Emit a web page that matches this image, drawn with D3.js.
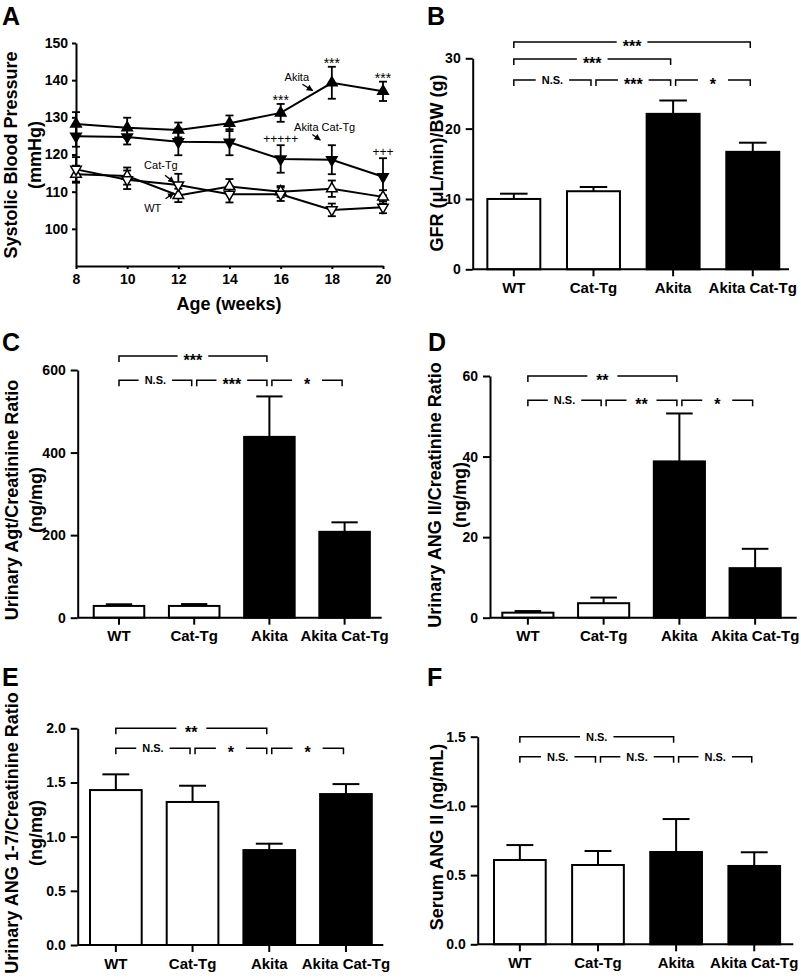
<!DOCTYPE html>
<html>
<head>
<meta charset="utf-8">
<script src="https://cdn.jsdelivr.net/npm/d3@7"></script>
<style>
body { margin: 0; background: #fff; }
svg { display: block; font-family: "Liberation Sans", Arial, sans-serif; }
.axis .domain, .axis line { stroke: #000; stroke-width: 2; }
.axis text { font-weight: bold; fill: #000; }
</style>
</head>
<body>
<svg id="fig" width="801" height="979"></svg>
<script>
// ---- data ----
const groups = ["WT", "Cat-Tg", "Akita", "Akita Cat-Tg"];

// panel A: systolic BP by age
const weeks = [8, 10, 12, 14, 16, 18, 20];
const bpWT = [114.7, 114.2, 109.0, 111.4, 110.0, 110.8, 108.6];
const bpWTErr = [2.3, 2.3, 1.8, 2.0, 1.5, 2.2, 1.8];
const bpCatTg = [116.0, 113.2, 111.8, 109.3, 109.3, 105.1, 105.8];
const bpCatTgErr = [3.3, 2.5, 3.0, 2.2, 1.8, 1.7, 1.6];
const bpAkita = [128.2, 127.2, 126.6, 128.4, 131.2, 139.3, 137.0];
const bpAkitaErr = [3.2, 2.7, 2.0, 2.1, 2.4, 4.3, 2.6];
const bpAkitaCatTg = [124.9, 124.7, 123.4, 123.3, 118.8, 118.6, 114.0];
const bpAkitaCatTgErr = [2.8, 2.0, 3.6, 3.5, 3.7, 3.9, 5.0];
const akitaSig = ["", "", "", "", "***", "***", "***"];
const akitaCatTgSig = ["", "", "", "", "+++++", "", "+++"];

// panels B-F: group means and SEM
const gfrMean = [10.0, 11.1, 22.1, 16.7];
const gfrErr = [0.75, 0.6, 1.9, 1.3];
const agtMean = [28.5, 28.5, 438, 208];
const agtErr = [4, 4.5, 98, 23];
const angIIMean = [1.25, 3.6, 38.8, 12.3];
const angIIErr = [0.4, 1.4, 11.9, 4.8];
const ang17Mean = [1.43, 1.32, 0.876, 1.393];
const ang17Err = [0.145, 0.15, 0.059, 0.092];
const serumMean = [0.609, 0.573, 0.667, 0.566];
const serumErr = [0.108, 0.101, 0.238, 0.099];

// comparisons [from, to, label]
const gfrSig = [[0, 3, "***"], [0, 2, "***"], [0, 1, "N.S."], [1, 2, "***"], [2, 3, "*"]];
const agtSig = [[0, 2, "***"], [0, 1, "N.S."], [1, 2, "***"], [2, 3, "*"]];
const angIISig = [[0, 2, "**"], [0, 1, "N.S."], [1, 2, "**"], [2, 3, "*"]];
const ang17Sig = [[0, 2, "**"], [0, 1, "N.S."], [1, 2, "*"], [2, 3, "*"]];
const serumSig = [[0, 2, "N.S."], [0, 1, "N.S."], [1, 2, "N.S."], [2, 3, "N.S."]];

const svg = d3.select("#fig");

svg.append("defs").append("marker")
    .attr("id", "arr")
    .attr("viewBox", "0 0 10 10")
    .attr("refX", 9).attr("refY", 5)
    .attr("markerWidth", 5).attr("markerHeight", 5)
    .attr("orient", "auto")
    .append("path").attr("d", "M0,0L10,5L0,10z").attr("fill", "#000");

function panelLetter(t, x, y) {
    svg.append("text").attr("x", x).attr("y", y)
        .attr("font-size", 25).attr("font-weight", "bold").text(t);
}

function yTitle(lines, xs, cy) {
    lines.forEach((t, i) => {
        svg.append("text")
            .attr("transform", "translate(" + xs[i] + "," + cy + ") rotate(-90)")
            .attr("text-anchor", "middle")
            .attr("dy", "0.35em")
            .attr("font-size", 18).attr("font-weight", "bold")
            .text(t);
    });
}

// ---- panel A ----
function drawA() {
    const x = d3.scaleLinear().domain([8, 20]).range([76, 383]);
    const y = d3.scaleLinear().domain([90, 150]).range([266, 43]);
    const g = svg.append("g");

    g.append("g").attr("class", "axis")
        .attr("transform", "translate(76,0)")
        .call(d3.axisLeft(y).tickValues([100, 110, 120, 130, 140, 150])
            .tickSize(4).tickPadding(4).tickSizeOuter(0))
        .selectAll("text").attr("font-size", 14);

    g.append("g").attr("class", "axis")
        .attr("transform", "translate(0,266)")
        .call(d3.axisBottom(x).tickValues(weeks).tickSize(3).tickPadding(5).tickSizeOuter(0))
        .selectAll("text").attr("font-size", 14);

    g.selectAll(".axis text").attr("font-family", null);

    const series = [
        { v: bpWT, e: bpWTErr, sym: "up", fill: "#fff" },
        { v: bpCatTg, e: bpCatTgErr, sym: "down", fill: "#fff" },
        { v: bpAkitaCatTg, e: bpAkitaCatTgErr, sym: "down", fill: "#000" },
        { v: bpAkita, e: bpAkitaErr, sym: "up", fill: "#000" }
    ];

    const line = d3.line().x((d, i) => x(weeks[i])).y(d => y(d));
    series.forEach(s => {
        g.append("path").attr("d", line(s.v))
            .attr("fill", "none").attr("stroke", "#000").attr("stroke-width", 2);
    });

    const tri = d3.symbol().type(d3.symbolTriangle).size(48);
    series.forEach(s => {
        s.v.forEach((v, i) => {
            const cx = x(weeks[i]);
            const eg = g.append("g").attr("stroke", "#000").attr("stroke-width", 1.8);
            eg.append("line").attr("x1", cx).attr("x2", cx)
                .attr("y1", y(v - s.e[i])).attr("y2", y(v + s.e[i]));
            [v - s.e[i], v + s.e[i]].forEach(c => {
                eg.append("line").attr("x1", cx - 4).attr("x2", cx + 4)
                    .attr("y1", y(c)).attr("y2", y(c));
            });
        });
    });
    series.forEach(s => {
        g.selectAll(null).data(s.v).join("path")
            .attr("d", tri)
            .attr("transform", (d, i) => "translate(" + x(weeks[i]) + "," + y(d) + ")"
                + (s.sym === "down" ? " rotate(180)" : ""))
            .attr("fill", s.fill).attr("stroke", "#000").attr("stroke-width", 1.5);
    });

    // significance marks
    akitaSig.forEach((t, i) => {
        if (!t) return;
        g.append("text").attr("x", x(weeks[i])).attr("y", y(bpAkita[i] + bpAkitaErr[i]) + 1)
            .attr("text-anchor", "middle").attr("font-size", 14).text(t);
    });
    akitaCatTgSig.forEach((t, i) => {
        if (!t) return;
        g.append("text").attr("x", x(weeks[i])).attr("y", y(bpAkitaCatTg[i] + bpAkitaCatTgErr[i]) - 2)
            .attr("text-anchor", "middle").attr("font-size", 12).text(t);
    });

    // series labels with arrows
    const labels = [
        { t: "Akita", wk: 16.63, v: 139.7, a: [16.85, 138.9, 17.25, 137.2] },
        { t: "Akita Cat-Tg", wk: 17.72, v: 126.3, a: [17.24, 125.4, 17.55, 123.9] },
        { t: "Cat-Tg", wk: 11.32, v: 116.2, a: [11.48, 114.4, 11.83, 112.5] },
        { t: "WT", wk: 11.0, v: 104.4, a: [11.5, 108.1, 11.82, 109.6] }
    ];
    labels.forEach(l => {
        g.append("text").attr("x", x(l.wk)).attr("y", y(l.v))
            .attr("text-anchor", "middle").attr("font-size", 11).text(l.t);
        g.append("line")
            .attr("x1", x(l.a[0])).attr("y1", y(l.a[1]))
            .attr("x2", x(l.a[2])).attr("y2", y(l.a[3]))
            .attr("stroke", "#000").attr("stroke-width", 1.3)
            .attr("marker-end", "url(#arr)");
    });

    svg.append("text").attr("x", 229).attr("y", 310).attr("text-anchor", "middle")
        .attr("font-size", 18).attr("font-weight", "bold").text("Age (weeks)");
    yTitle(["Systolic Blood Pressure", "(mmHg)"], [11, 35], 155);
    panelLetter("A", 2, 25);
}

// ---- bar panels ----
function barPanel(o) {
    const y = d3.scaleLinear().domain([0, o.yMax]).range([o.y0, o.y1]);
    const x = d3.scaleBand().domain(groups).range([o.xa, o.xb])
        .paddingInner(o.pad).paddingOuter(o.pad / 2);
    const c = i => x(groups[i]) + x.bandwidth() / 2;
    const g = svg.append("g");

    // error bars (upper only)
    const capW = x.bandwidth() * 0.26;
    o.mean.forEach((m, i) => {
        const top = y(m + o.err[i]);
        g.append("line").attr("x1", c(i)).attr("x2", c(i)).attr("y1", y(m)).attr("y2", top)
            .attr("stroke", "#000").attr("stroke-width", 2);
        g.append("line").attr("x1", c(i) - capW).attr("x2", c(i) + capW).attr("y1", top).attr("y2", top)
            .attr("stroke", "#000").attr("stroke-width", 2);
    });

    g.selectAll("rect").data(o.mean).join("rect")
        .attr("x", (d, i) => x(groups[i]))
        .attr("y", d => y(d))
        .attr("width", x.bandwidth())
        .attr("height", d => o.y0 - y(d))
        .attr("fill", (d, i) => i < 2 ? "#fff" : "#000")
        .attr("stroke", "#000").attr("stroke-width", 2);

    g.append("g").attr("class", "axis")
        .attr("transform", "translate(" + o.axisX + ",0)")
        .call(d3.axisLeft(y).tickValues(o.ticks).tickFormat(d3.format(o.fmt))
            .tickSize(7).tickPadding(5).tickSizeOuter(0))
        .selectAll("text").attr("font-size", 14).attr("font-family", null);

    const xa = g.append("g").attr("class", "axis")
        .attr("transform", "translate(0," + o.y0 + ")")
        .call(d3.axisBottom(x).tickSize(7).tickPadding(6).tickSizeOuter(0));
    xa.select(".domain").attr("d", "M" + o.axisX + ",0H" + o.xEnd);
    xa.selectAll("text").attr("font-size", 15).attr("font-family", null);

    // comparison brackets
    const spans = Array.from(new Set(o.sig.map(s => s[1] - s[0]))).sort((a, b) => a - b);
    o.sig.forEach(s => {
        const row = spans.indexOf(s[1] - s[0]);
        const ly = y(o.rows[row]);
        const x1 = c(s[0]) + (s[0] > 0 ? 2.5 : 0);
        const x2 = c(s[1]) - 2.5;
        const xm = (x1 + x2) / 2;
        const star = s[2].indexOf("*") >= 0;
        const t = g.append("text").attr("x", xm).attr("y", ly + (star ? 10 : 4))
            .attr("text-anchor", "middle").attr("font-weight", "bold")
            .attr("font-size", star ? 16 : 11)
            .text(s[2]);
        const w = t.node().getComputedTextLength();
        const gap = Math.max(w + 12, 30) / 2;
        g.append("path")
            .attr("d", "M" + x1 + "," + (ly + 6) + "V" + ly + "H" + (xm - gap)
                + "M" + (xm + gap) + "," + ly + "H" + x2 + "V" + (ly + 6))
            .attr("fill", "none").attr("stroke", "#000").attr("stroke-width", 1.5);
    });
}

drawA();

barPanel({ mean: gfrMean, err: gfrErr, sig: gfrSig, yMax: 30, ticks: [0, 10, 20, 30], fmt: "d",
    y0: 269.3, y1: 58.3, axisX: 472.7, xEnd: 789, xa: 474, xb: 792.6, pad: 0.335,
    rows: [26.9, 29.9, 32.3] });
yTitle(["GFR (\u03bcL/min)/BW (g)"], [437], 163);
panelLetter("B", 427, 25);

barPanel({ mean: agtMean, err: agtErr, sig: agtSig, yMax: 600, ticks: [0, 200, 400, 600], fmt: "d",
    y0: 617.7, y1: 370, axisX: 77.7, xEnd: 381.7, xa: 81.4, xb: 382.2, pad: 0.328,
    rows: [575, 634] });
yTitle(["Urinary Agt/Creatinine Ratio", "(ng/mg)"], [12, 36], 500);
panelLetter("C", 2, 351);

barPanel({ mean: angIIMean, err: angIIErr, sig: angIISig, yMax: 60, ticks: [0, 20, 40, 60], fmt: "d",
    y0: 617.7, y1: 376, axisX: 490, xEnd: 796.7, xa: 490, xb: 793, pad: 0.325,
    rows: [54, 60] });
yTitle(["Urinary ANG II/Creatinine Ratio", "(ng/mg)"], [435, 460], 495);
panelLetter("D", 428, 351);

barPanel({ mean: ang17Mean, err: ang17Err, sig: ang17Sig, yMax: 2, ticks: [0, 0.5, 1, 1.5, 2], fmt: ".1f",
    y0: 945, y1: 728.3, axisX: 77.7, xEnd: 383.3, xa: 77.5, xb: 384.3, pad: 0.326,
    rows: [1.815, 2.0] });
yTitle(["Urinary ANG 1-7/Creatinine Ratio", "(ng/mg)"], [12, 36], 833);
panelLetter("E", 2, 686);

barPanel({ mean: serumMean, err: serumErr, sig: serumSig, yMax: 1.5, ticks: [0, 0.5, 1, 1.5], fmt: ".1f",
    y0: 944.3, y1: 736.7, axisX: 477.7, xEnd: 793.3, xa: 480.8, xb: 793.3, pad: 0.338,
    rows: [1.356, 1.5] });
yTitle(["Serum ANG II (ng/mL)"], [437], 837);
panelLetter("F", 427, 686);
</script>
</body>
</html>
